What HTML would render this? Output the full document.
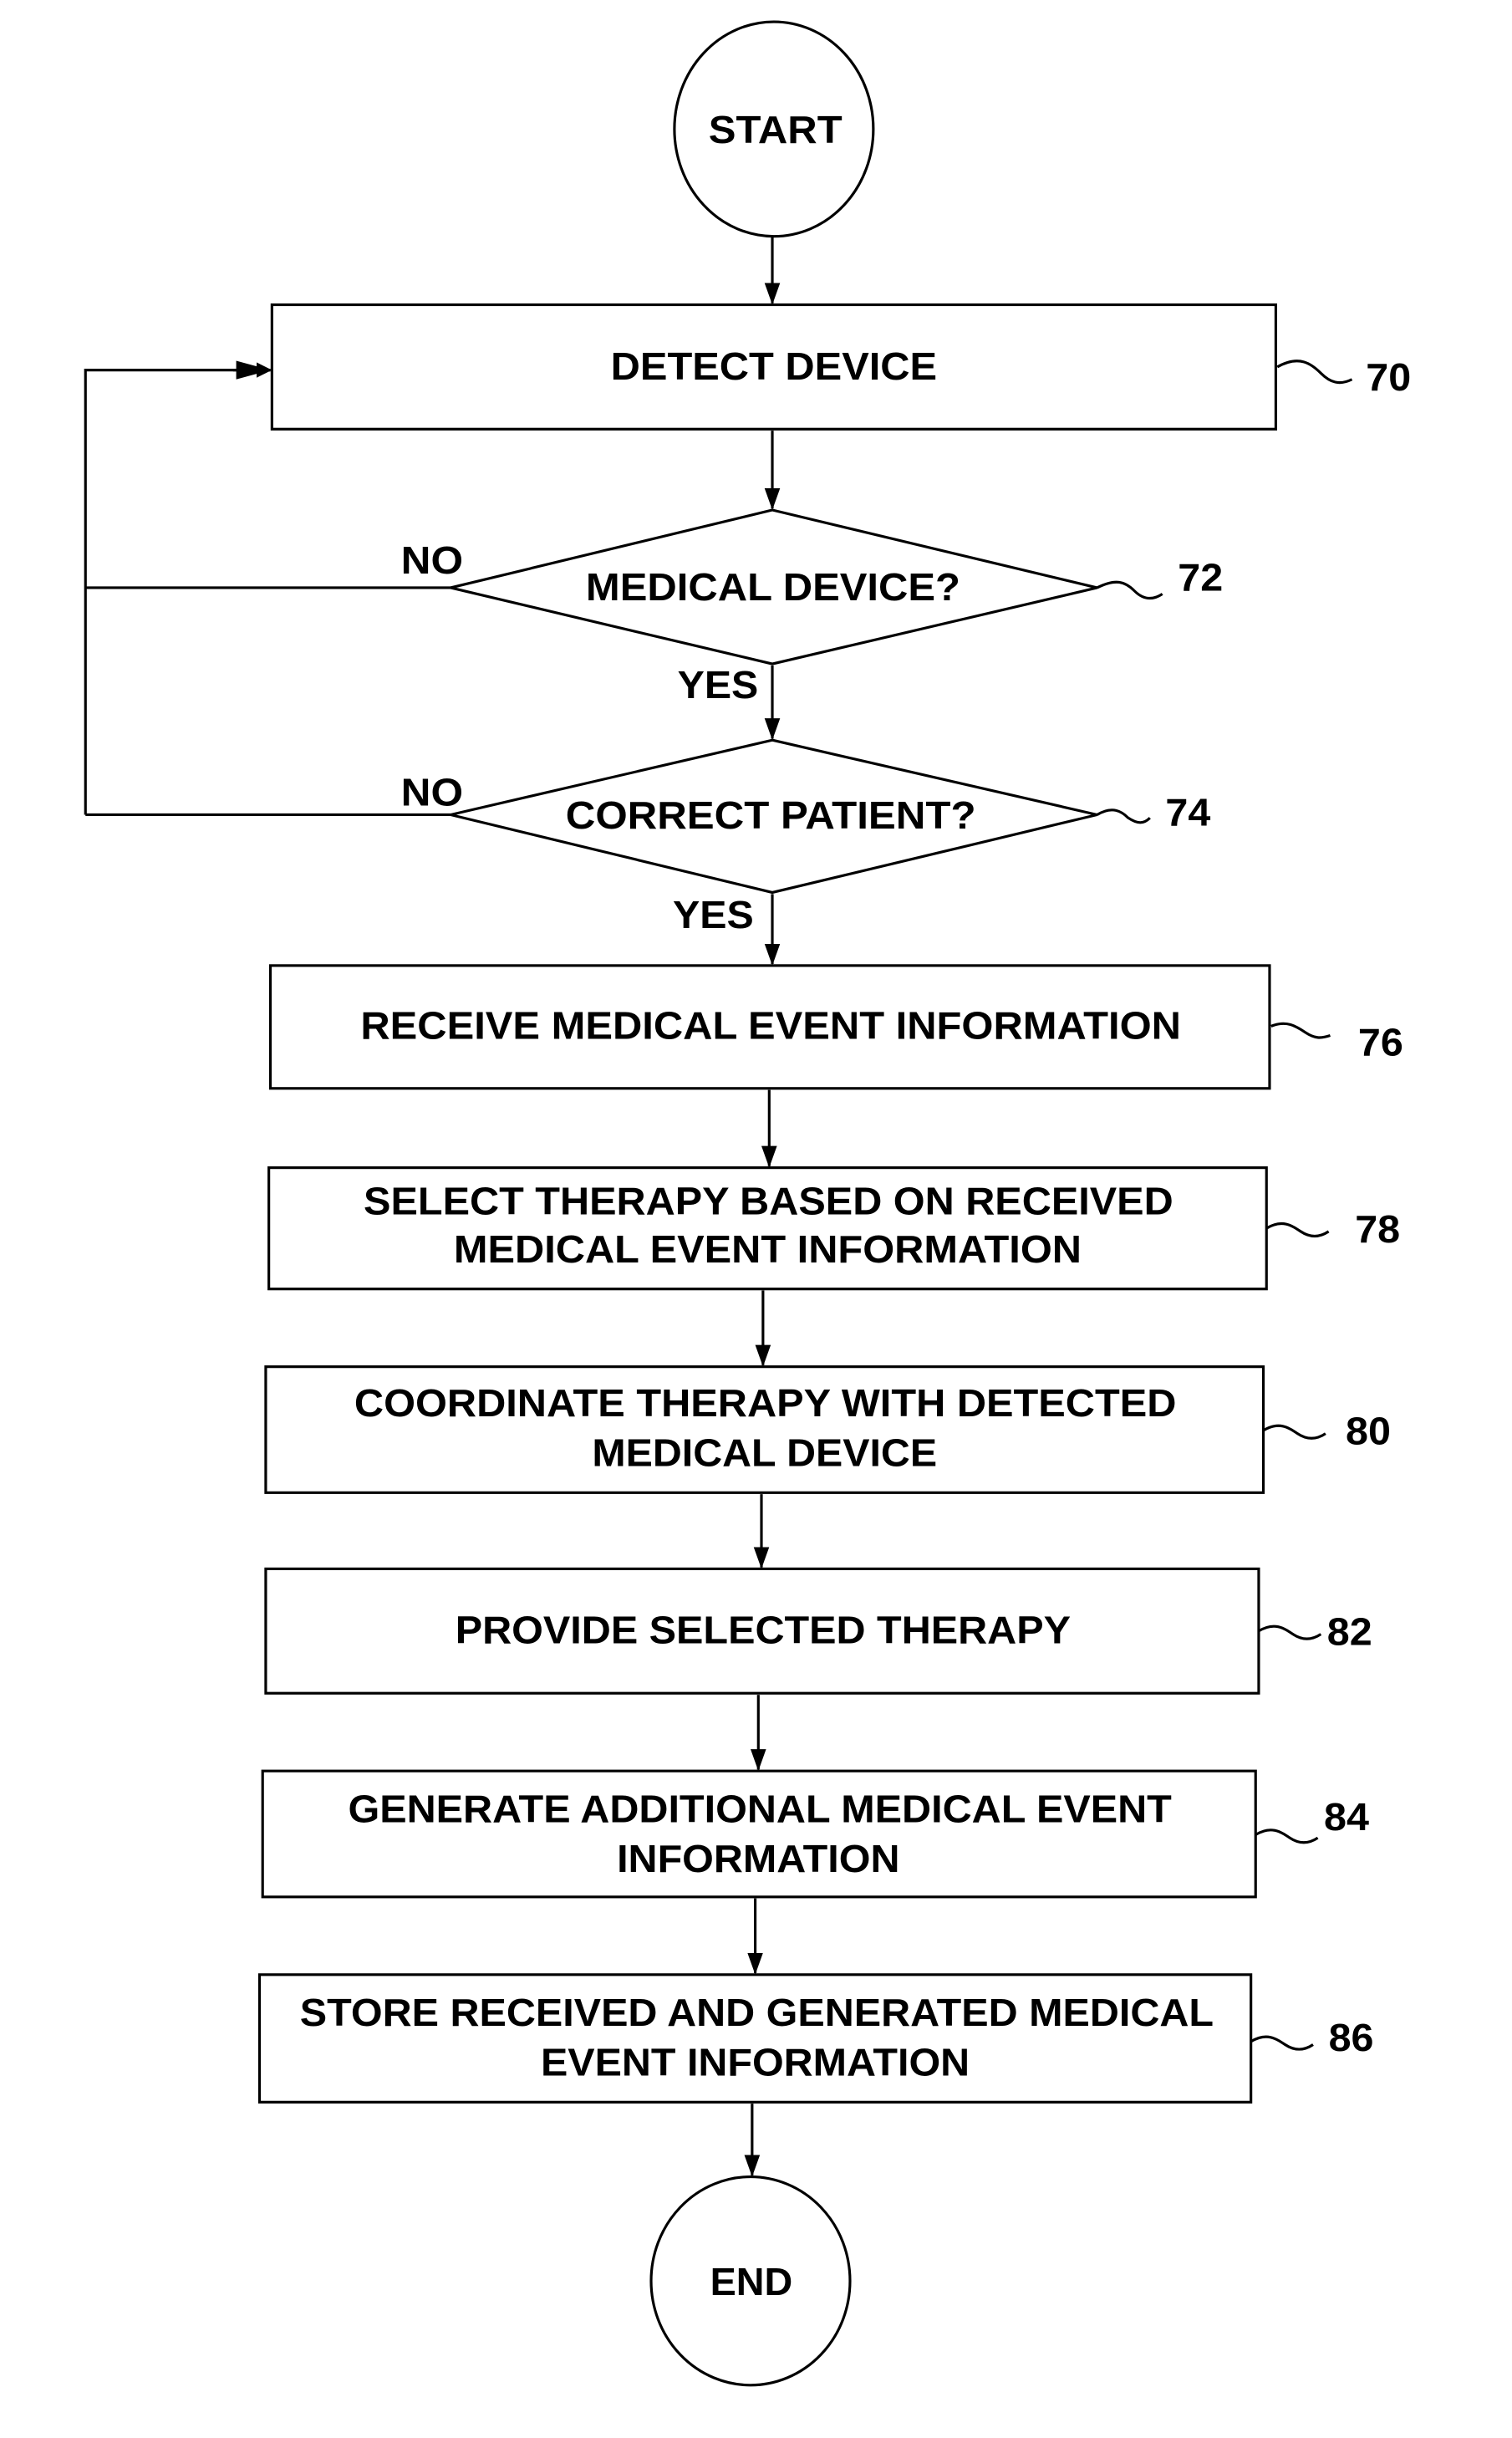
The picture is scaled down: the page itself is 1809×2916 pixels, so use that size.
<!DOCTYPE html>
<html><head><meta charset="utf-8"><style>
html,body{margin:0;padding:0;background:#fff;}
svg{display:block;}
text{font-family:"Liberation Sans",sans-serif;font-weight:bold;fill:#000;}
</style></head><body>
<svg width="1809" height="2916" viewBox="0 0 973 1568" preserveAspectRatio="none" xmlns="http://www.w3.org/2000/svg">
<defs><marker id="a" markerWidth="10" markerHeight="10" refX="9" refY="5" orient="auto" markerUnits="userSpaceOnUse"><path d="M0,0 L10,5 L0,10 Z" fill="#000"/></marker>
<marker id="d" markerWidth="10" markerHeight="14" refX="5" refY="13" orient="0" markerUnits="userSpaceOnUse"><path d="M0,0 L5,14 L10,0 Z" fill="#000"/></marker></defs>
<g stroke="#000" stroke-width="1.7" fill="none">
<ellipse cx="498" cy="83" rx="64" ry="69"/>
<rect x="175" y="196" width="646" height="80"/>
<polygon points="497,328 706,378 497,427 290,378"/>
<polygon points="497,476 706,524 497,574 290,524"/>
<rect x="174" y="621" width="643" height="79"/>
<rect x="173" y="751" width="642" height="78"/>
<rect x="171" y="879" width="642" height="81"/>
<rect x="171" y="1009" width="639" height="80"/>
<rect x="169" y="1139" width="639" height="81"/>
<rect x="167" y="1270" width="638" height="82"/>
<ellipse cx="483" cy="1467" rx="64" ry="67"/>
<path d="M55,378 L290,378 M55,524 L290,524 M55,524 L55,238 L174,238" />
<path d="M822,236 c14,-8 22,-2 28,4 c6,6 12,8 20,4 M706,378 c12,-6 18,-4 24,2 c6,6 12,6 18,2 M706,524 c10,-6 16,-2 20,2 c6,4 10,4 14,0 M818,660 c10,-4 16,0 22,4 c6,4 10,4 16,2 M815,790 c10,-6 16,-2 22,2 c6,4 12,4 18,0 M813,920 c10,-6 16,-2 22,2 c6,4 12,4 18,0 M810,1049 c10,-6 16,-2 22,2 c6,4 12,4 18,0 M808,1180 c10,-6 16,-2 22,2 c6,4 12,4 18,0 M805,1313 c10,-6 16,-2 22,2 c6,4 12,4 18,0"/>
<g marker-end="url(#d)">
<path d="M497,152 L497,195"/><path d="M497,277 L497,327"/><path d="M497,428 L497,475"/><path d="M497,575 L497,620"/>
<path d="M495,701 L495,750"/><path d="M491,830 L491,878"/><path d="M490,961 L490,1008"/><path d="M488,1090 L488,1138"/><path d="M486,1221 L486,1269"/><path d="M484,1353 L484,1399"/>
</g>
<path d="M150,238 L174,238" marker-end="url(#a)"/>
</g>
<path d="M152,232 L174,238 L152,244 Z" fill="#000"/>
<g font-size="25">
<text x="456" y="92" textLength="86" lengthAdjust="spacingAndGlyphs">START</text>
<text x="393" y="244" textLength="210" lengthAdjust="spacingAndGlyphs">DETECT DEVICE</text>
<text x="377" y="386" textLength="241" lengthAdjust="spacingAndGlyphs">MEDICAL DEVICE?</text>
<text x="364" y="533" textLength="264" lengthAdjust="spacingAndGlyphs">CORRECT PATIENT?</text>
<text x="258" y="369" textLength="40" lengthAdjust="spacingAndGlyphs">NO</text>
<text x="258" y="518" textLength="40" lengthAdjust="spacingAndGlyphs">NO</text>
<text x="436" y="449" textLength="52" lengthAdjust="spacingAndGlyphs">YES</text>
<text x="433" y="597" textLength="52" lengthAdjust="spacingAndGlyphs">YES</text>
<text x="232" y="668" textLength="528" lengthAdjust="spacingAndGlyphs">RECEIVE MEDICAL EVENT INFORMATION</text>
<text x="234" y="781" textLength="521" lengthAdjust="spacingAndGlyphs">SELECT THERAPY BASED ON RECEIVED</text>
<text x="292" y="812" textLength="404" lengthAdjust="spacingAndGlyphs">MEDICAL EVENT INFORMATION</text>
<text x="228" y="911" textLength="529" lengthAdjust="spacingAndGlyphs">COORDINATE THERAPY WITH DETECTED</text>
<text x="381" y="943" textLength="222" lengthAdjust="spacingAndGlyphs">MEDICAL DEVICE</text>
<text x="293" y="1057" textLength="396" lengthAdjust="spacingAndGlyphs">PROVIDE SELECTED THERAPY</text>
<text x="224" y="1172" textLength="530" lengthAdjust="spacingAndGlyphs">GENERATE ADDITIONAL MEDICAL EVENT</text>
<text x="397" y="1204" textLength="182" lengthAdjust="spacingAndGlyphs">INFORMATION</text>
<text x="193" y="1303" textLength="588" lengthAdjust="spacingAndGlyphs">STORE RECEIVED AND GENERATED MEDICAL</text>
<text x="348" y="1335" textLength="276" lengthAdjust="spacingAndGlyphs">EVENT INFORMATION</text>
<text x="457" y="1476" textLength="53" lengthAdjust="spacingAndGlyphs">END</text>
<text x="879" y="251" textLength="29" lengthAdjust="spacingAndGlyphs">70</text>
<text x="758" y="380" textLength="29" lengthAdjust="spacingAndGlyphs">72</text>
<text x="750" y="531" textLength="29" lengthAdjust="spacingAndGlyphs">74</text>
<text x="874" y="679" textLength="29" lengthAdjust="spacingAndGlyphs">76</text>
<text x="872" y="799" textLength="29" lengthAdjust="spacingAndGlyphs">78</text>
<text x="866" y="929" textLength="29" lengthAdjust="spacingAndGlyphs">80</text>
<text x="854" y="1058" textLength="29" lengthAdjust="spacingAndGlyphs">82</text>
<text x="852" y="1177" textLength="29" lengthAdjust="spacingAndGlyphs">84</text>
<text x="855" y="1319" textLength="29" lengthAdjust="spacingAndGlyphs">86</text>
</g>
</svg>
</body></html>
